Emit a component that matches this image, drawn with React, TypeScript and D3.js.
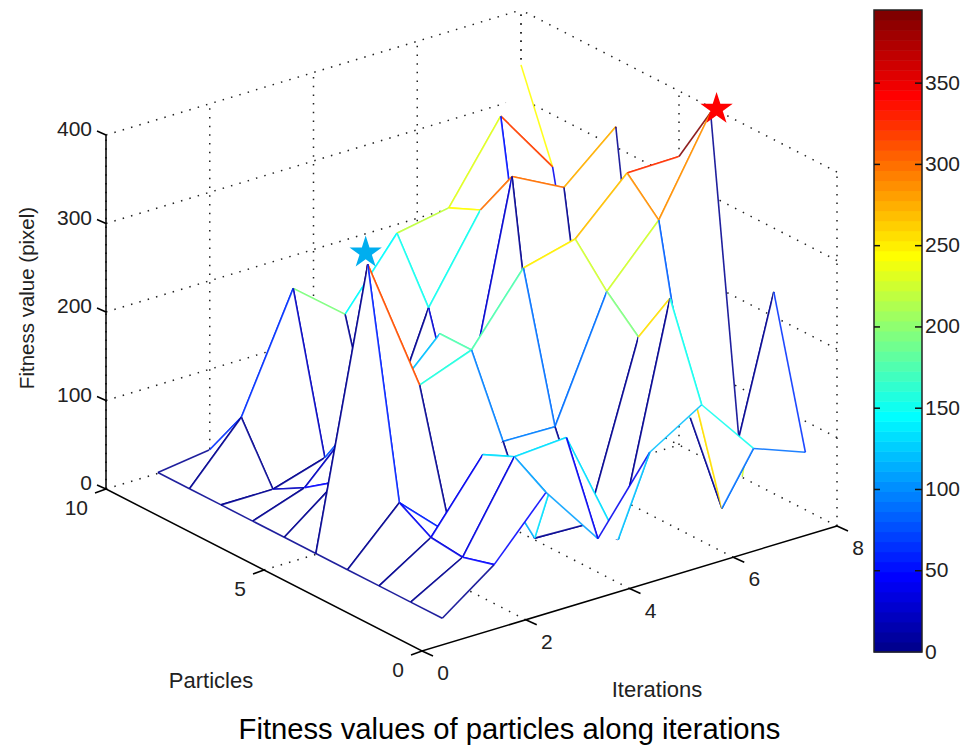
import React, { useEffect, useRef } from 'react';
import * as d3 from 'd3';

// fitness per iteration (outer, 1..8) and particle (inner, 1..10), null = no sample
const iter1 = [1, 1, 1, 1, 1, 1, 1, 1, 1, 1];
const iter2 = [44, 34, 38, 59, 310, 46, 21, 1, 64, 9];
const iter3 = [108, 130, 114, 5, 156, 120, 79, 19, 192, 5];
const iter4 = [38, 134, 2, 93, 178, 178, 70, 3, 145, 5];
const iter5 = [118, 1, 0, 92, 253, 30, 26, 153, 219, 5];
const iter6 = [154, 256, 194, 227, 268, 1, 302, 246, 230, 5];
const iter7 = [87, 1, 85, 290, 325, 3, 272, 50, 316, null];
const iter8 = [65, 228, 1, 394, 326, 2, 323, 40, 241, 338];
const fitness = [iter1, iter2, iter3, iter4, iter5, iter6, iter7, iter8];

const xTicks = [0, 2, 4, 6, 8];
const yTicks = [0, 5, 10];
const zTicks = [0, 100, 200, 300, 400];
const barTicks = [0, 50, 100, 150, 200, 250, 300, 350];
const colorMax = 395;

const stars = [
  { x: 1.96, y: 5, z: 324, color: '#00aeef' },
  { x: 8.115, y: 4, z: 396, color: '#ff0000' },
];

const font = '"Liberation Sans", Arial, sans-serif';

// MATLAB jet, 64 levels
const jetStops = d3.scaleLinear<string>()
  .domain([0, 7 / 63, 23 / 63, 39 / 63, 55 / 63, 1])
  .range(['rgb(0,0,143)', 'rgb(0,0,255)', 'rgb(0,255,255)', 'rgb(255,255,0)', 'rgb(255,0,0)', 'rgb(128,0,0)']);
const jet = (v: number) => {
  const level = Math.min(63, Math.floor((v / colorMax) * 64));
  return jetStops(level / 63);
};

export default function App() {
  const svgRef = useRef<SVGSVGElement>(null);

  useEffect(() => {
    const svg = d3.select(svgRef.current);
    svg.selectAll('*').remove();

    // oblique projection of the axes box
    const origin = [422, 651];
    const px = d3.scaleLinear().domain([0, 8]).range([0, 415]);
    const pxY = d3.scaleLinear().domain([0, 8]).range([0, -125]);
    const py = d3.scaleLinear().domain([0, 10]).range([0, -316]);
    const pyY = d3.scaleLinear().domain([0, 10]).range([0, -162]);
    const pz = d3.scaleLinear().domain([0, 400]).range([0, -354]);
    const project = (x: number, y: number, z: number): [number, number] => [
      origin[0] + px(x) + py(y),
      origin[1] + pxY(x) + pyY(y) + pz(z),
    ];
    const line = d3.line();

    // dotted grid
    const gridG = svg.append('g').attr('fill', 'none').attr('stroke', '#222')
      .attr('stroke-width', 1.5).attr('stroke-dasharray', '1.5 7.2');
    const grid = (a: [number, number, number], b: [number, number, number]) => {
      gridG.append('path').attr('d', line([project(...a), project(...b)]));
    };
    zTicks.forEach((z) => {
      grid([0, 10, z], [8, 10, z]);
      grid([8, 0, z], [8, 10, z]);
    });
    xTicks.forEach((x) => {
      grid([x, 10, 0], [x, 10, 400]);
      if (x > 0 && x < 8) grid([x, 0, 0], [x, 10, 0]);
    });
    yTicks.forEach((y) => {
      grid([8, y, 0], [8, y, 400]);
      if (y > 0 && y < 10) grid([0, y, 0], [8, y, 0]);
    });

    // axis lines and ticks
    const axisG = svg.append('g').attr('fill', 'none').attr('stroke', '#000').attr('stroke-width', 1.5);
    axisG.append('path').attr('d', line([project(0, 10, 400), project(0, 10, 0), project(0, 0, 0), project(8, 0, 0)]));
    zTicks.forEach((z) => {
      const [tx, ty] = project(0, 10, z);
      axisG.append('path').attr('d', line([[tx, ty], [tx - 9, ty - 4]]));
    });
    xTicks.forEach((x) => {
      const [tx, ty] = project(x, 0, 0);
      axisG.append('path').attr('d', line([[tx, ty], [tx + 11, ty + 5]]));
    });
    yTicks.forEach((y) => {
      const [tx, ty] = project(0, y, 0);
      axisG.append('path').attr('d', line([[tx, ty], [tx - 11, ty + 4]]));
    });

    // mesh, far faces first so the white fills hide what is behind them
    const meshG = svg.append('g');
    const nI = fitness.length;
    const nJ = fitness[0].length;
    const vertex = (i: number, j: number) => {
      const z = fitness[i][j];
      return z === null ? null : project(i + 1, j + 1, z);
    };
    const drawEdge = (s: number[], e: number[]) => {
      const p0 = vertex(s[0], s[1]);
      const p1 = vertex(e[0], e[1]);
      if (!p0 || !p1) return;
      meshG.append('path')
        .attr('d', line([p0, p1]))
        .attr('fill', 'none')
        .attr('stroke', jet(fitness[s[0]][s[1]] as number))
        .attr('stroke-opacity', 0.88)
        .attr('stroke-width', 1.6);
    };
    const fillFace = (corners: number[][]) => {
      const pts = corners.map(([a, b]) => vertex(a, b)).filter(Boolean) as [number, number][];
      if (pts.length > 2) meshG.append('path').attr('d', line(pts) + 'Z').attr('fill', '#fff');
    };
    for (let i = nI - 2; i >= 0; i--) {
      for (let j = nJ - 2; j >= 0; j--) {
        fillFace([[i, j], [i + 1, j], [i + 1, j + 1], [i, j + 1]]);
        drawEdge([i, j + 1], [i + 1, j + 1]);
        drawEdge([i, j], [i, j + 1]);
        // near triangle goes over the far edges, folded faces need it
        fillFace([[i, j], [i + 1, j], [i + 1, j + 1]]);
        drawEdge([i, j], [i + 1, j]);
        drawEdge([i + 1, j], [i + 1, j + 1]);
      }
    }

    // best particle markers
    stars.forEach((s) => {
      const [sx, sy] = project(s.x, s.y, s.z);
      svg.append('path')
        .attr('d', d3.symbol().type(d3.symbolStar).size(325)())
        .attr('transform', `translate(${sx},${sy})`)
        .attr('fill', s.color);
    });

    // colorbar
    const barX = 874;
    const barW = 48;
    const barScale = d3.scaleLinear().domain([0, colorMax]).range([652, 10]);
    d3.range(64).forEach((k) => {
      const v0 = (k / 64) * colorMax;
      const v1 = ((k + 1) / 64) * colorMax;
      svg.append('rect')
        .attr('x', barX).attr('width', barW)
        .attr('y', barScale(v1)).attr('height', barScale(v0) - barScale(v1) + 0.5)
        .attr('fill', jet(v0 + 0.1));
    });
    svg.append('rect').attr('x', barX).attr('y', 10).attr('width', barW).attr('height', 642)
      .attr('fill', 'none').attr('stroke', '#222').attr('stroke-width', 1.5);
    barTicks.forEach((t) => {
      const y = barScale(t);
      if (t > 0) {
        svg.append('path').attr('d', line([[barX, y], [barX + 6, y]])).attr('stroke', '#111').attr('stroke-width', 1.5);
        svg.append('path').attr('d', line([[barX + barW - 7, y], [barX + barW, y]])).attr('stroke', '#111').attr('stroke-width', 1.5);
      }
      svg.append('text').attr('x', 925).attr('y', y + 6.5).text(t)
        .attr('font-family', font).attr('font-size', 21).attr('fill', '#222');
    });

    // tick labels
    const label = (x: number, y: number, t: string | number, size: number, anchor = 'middle') =>
      svg.append('text').attr('x', x).attr('y', y).attr('text-anchor', anchor)
        .attr('font-family', font).attr('font-size', size).attr('fill', '#222').text(t);

    zTicks.forEach((z) => {
      const [tx, ty] = project(0, 10, z);
      label(tx - 14, ty + 1, z, 21, 'end');
    });
    xTicks.forEach((x) => {
      const [tx, ty] = project(x, 0, 0);
      label(tx + 21, ty + 29, x, 21);
    });
    yTicks.forEach((y) => {
      const [tx, ty] = project(0, y, 0);
      label(tx - 18, ty + 26, y, 21, 'end');
    });

    label(211, 688, 'Particles', 22);
    label(657, 697, 'Iterations', 22);
    svg.append('text').attr('transform', 'translate(34,298) rotate(-90)').attr('text-anchor', 'middle')
      .attr('font-family', font).attr('font-size', 20.5).attr('fill', '#222').text('Fitness value (pixel)');
    label(509.5, 739, 'Fitness values of particles along iterations', 29.2).attr('fill', '#000');
  }, []);

  return <svg ref={svgRef} width={975} height={746} style={{ position: 'absolute', left: 0, top: 0, background: '#fff' }} />;
}
